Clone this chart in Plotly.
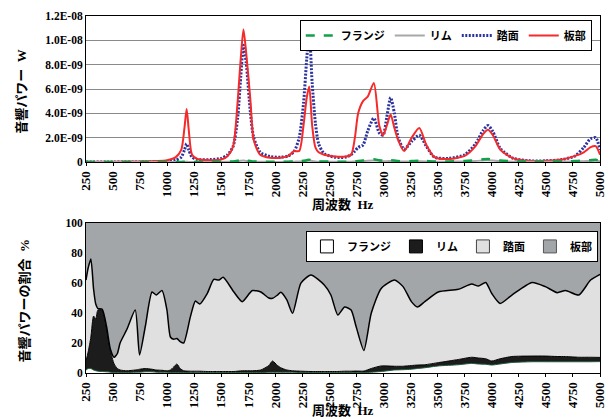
import plotly.graph_objects as go

# ---------- top chart data (sound power, units of 1E-09 W) ----------
freq_top = [250, 500, 750, 900, 1000, 1080, 1130, 1160, 1180, 1200,
            1230, 1280, 1400, 1500, 1560, 1610, 1650, 1680, 1705, 1730,
            1770, 1800, 1860, 1950, 2050, 2120, 2175, 2220, 2260, 2290,
            2313, 2340, 2370, 2400, 2450, 2550, 2650, 2700, 2735, 2765,
            2810, 2855, 2910, 2960, 2995, 3030, 3065, 3100, 3135, 3190,
            3260, 3330, 3395, 3470, 3600, 3750, 3850, 3920, 3965, 4010,
            4080, 4200, 4350, 4500, 4650, 4770, 4850, 4910, 4960, 5000]

flange_w = [0, 0, 0, 0, 0, 0, 0.01, 0.02, 0.03, 0.02,
            0.01, 0.01, 0.01, 0.02, 0.03, 0.05, 0.1, 0.15, 0.18, 0.12,
            0.08, 0.05, 0.03, 0.02, 0.02, 0.03, 0.04, 0.06, 0.1, 0.15,
            0.18, 0.12, 0.08, 0.05, 0.04, 0.03, 0.03, 0.04, 0.06, 0.08,
            0.12, 0.18, 0.22, 0.15, 0.12, 0.12, 0.15, 0.12, 0.08, 0.06,
            0.08, 0.1, 0.08, 0.05, 0.05, 0.08, 0.15, 0.22, 0.25, 0.2,
            0.12, 0.05, 0.03, 0.03, 0.05, 0.08, 0.12, 0.15, 0.18, 0.12]

rim_w = [0, 0, 0, 0, 0, 0, 0.01, 0.01, 0.02, 0.01,
         0.01, 0.01, 0.01, 0.01, 0.02, 0.03, 0.06, 0.1, 0.12, 0.08,
         0.05, 0.03, 0.02, 0.01, 0.01, 0.02, 0.03, 0.04, 0.06, 0.1,
         0.12, 0.08, 0.05, 0.03, 0.02, 0.02, 0.02, 0.03, 0.04, 0.05,
         0.07, 0.1, 0.12, 0.09, 0.07, 0.07, 0.09, 0.07, 0.05, 0.04,
         0.05, 0.06, 0.05, 0.03, 0.03, 0.05, 0.09, 0.13, 0.15, 0.12,
         0.07, 0.03, 0.02, 0.02, 0.03, 0.05, 0.07, 0.09, 0.1, 0.07]

tread_w = [0.0, 0.0, 0.0, 0.02, 0.05, 0.15, 0.4, 1.0, 1.5, 1.0,
           0.4, 0.2, 0.2, 0.3, 0.6, 1.3, 3.5, 7.0, 9.6, 8.2,
           4.0, 2.0, 0.8, 0.45, 0.4, 0.5, 0.9, 2.0, 4.8, 8.5,
           10.7, 6.5, 3.2, 1.5, 0.7, 0.4, 0.4, 0.6, 0.9, 1.2,
           1.4, 2.6, 3.6, 2.4, 2.2, 3.7, 5.3, 4.0, 2.0, 1.05,
           1.7, 2.2, 1.3, 0.4, 0.3, 0.6, 1.5, 2.6, 3.0, 2.5,
           1.1, 0.3, 0.1, 0.1, 0.2, 0.5, 1.2, 1.9, 2.0, 1.0]

plate_w = [0.02, 0.03, 0.05, 0.08, 0.15, 0.4, 1.0, 2.8, 4.35, 2.6,
           0.6, 0.25, 0.15, 0.2, 0.5, 1.3, 4.8, 8.5, 10.9, 9.0,
           5.0, 1.8, 0.6, 0.35, 0.35, 0.5, 0.9, 0.9, 3.0, 5.3,
           6.2, 3.0, 1.2, 0.8, 0.6, 0.45, 0.45, 0.6, 2.0, 4.0,
           5.0, 5.4, 6.5, 3.0, 2.2, 3.0, 3.9, 2.8, 1.8, 0.9,
           2.0, 2.8, 1.4, 0.4, 0.25, 0.5, 1.3, 2.3, 2.65, 2.2,
           1.0, 0.3, 0.1, 0.1, 0.2, 0.5, 0.8, 1.2, 1.3, 0.6]

# ---------- bottom chart data (share of sound power, %) ----------
freq_bot = [250, 270, 295, 320, 340, 360, 400, 440, 475, 510,
            540, 565, 627, 705, 745, 798, 860, 900, 952, 998,
            1030, 1060, 1090, 1120, 1153, 1215, 1261, 1301, 1370, 1431,
            1478, 1518, 1617, 1694, 1787, 1865, 1940, 1973, 2020, 2050,
            2106, 2159, 2236, 2329, 2452, 2513, 2577, 2640, 2700, 2746,
            2818, 2886, 2978, 3102, 3180, 3257, 3313, 3381, 3505, 3690,
            3814, 3876, 3944, 4000, 4077, 4186, 4372, 4495, 4604, 4681,
            4805, 4913, 5000]

flange_pct = [2, 3, 3, 2, 1.5, 1.2, 1, 0.8, 0.5, 0.3,
              0.3, 0.3, 0.3, 0.5, 0.5, 0.8, 0.8, 0.5, 0.5, 0.5,
              0.3, 0.3, 0.3, 0.3, 0.3, 0.3, 0.3, 0.3, 0.3, 0.3,
              0.3, 0.3, 0.3, 0.3, 0.3, 0.3, 0.5, 0.5, 0.5, 0.5,
              0.5, 0.5, 0.3, 0.3, 0.3, 0.3, 0.3, 0.3, 0.3, 0.3,
              0.2, 0.5, 1, 2, 2.2, 2.5, 3, 3.5, 4.7, 5.5,
              6.4, 6, 5.8, 5.3, 6, 7, 7.5, 7.5, 7.5, 7.5,
              7.5, 7.5, 7.6]

rim_pct = [6, 11, 21, 36, 34.5, 40.8, 41, 29.2, 14.5, 5.7,
           2.7, 1.7, 1.2, 1.5, 2, 2.2, 1.7, 1.5, 1.3, 1,
           1.7, 3.7, 5.7, 2.7, 1.2, 0.9, 0.9, 0.9, 0.7, 0.7,
           0.7, 0.7, 0.7, 1.2, 1.2, 1.7, 4.5, 7.5, 4.5, 3,
           1.5, 1, 0.9, 0.7, 0.7, 0.7, 0.7, 0.9, 0.9, 1,
           1.1, 2.5, 3.7, 2.5, 2.3, 2.5, 2.3, 2, 2.2, 3.5,
           4.1, 4, 3.7, 2.7, 3.5, 4, 3.8, 3.8, 3.5, 3.5,
           3, 3, 2.8]

tread_pct = [54, 56, 52, 18, 10, 1, 0.5, 1, 1, 4.5,
             10, 18, 27.5, 40, 9.5, 28, 51.5, 50, 53.2, 40.5,
             22, 18.5, 17, 18, 18.5, 36.4, 46.8, 44.8, 52, 61.4,
             61, 62.8, 53, 46.1, 53.5, 52, 45, 41.8, 47, 50.3,
             46.7, 38.3, 58.8, 64.3, 57.7, 51, 37.7, 42.8, 40.8, 29.7,
             13.7, 36.8, 51.7, 57.5, 53.1, 42.6, 38.7, 42.1, 47.1, 46.8,
             48.8, 48, 50.9, 45, 36.9, 41, 49.1, 46.3, 42.6, 44,
             41.5, 51.5, 55.4]

plate_pct = [38, 30, 24, 44, 54, 57, 57.5, 69, 84, 89.5,
             87, 80, 71, 58, 88, 69, 46, 48, 45, 58,
             76, 77.5, 77, 79, 80, 62.4, 52, 54, 47, 37.6,
             38, 36.2, 46, 52.4, 45, 46, 50, 50.2, 48, 46.2,
             51.3, 60.2, 40, 34.7, 41.3, 48, 61.3, 56, 58, 69,
             85, 60.2, 43.6, 38, 42.4, 52.4, 56, 52.4, 46, 44.2,
             40.7, 42, 39.6, 47, 53.6, 48, 39.6, 42.4, 46.4, 45,
             48, 38, 34.2]

names = ["フランジ", "リム", "踏面", "板部"]
x_ticks = list(range(250, 5001, 250))
y_top_ticks = [0, 2e-9, 4e-9, 6e-9, 8e-9, 1e-8, 1.2e-8]
y_top_text = ["0", "2.0E-09", "4.0E-09", "6.0E-09", "8.0E-09", "1.0E-08", "1.2E-08"]
y_bot_ticks = [0, 20, 40, 60, 80, 100]

SERIF = "Liberation Serif, Noto Sans CJK JP"
JP = "Noto Sans CJK JP"

fig = go.Figure()

def w(vals):
    return [v * 1e-9 for v in vals]

# top chart lines (draw order: tread, plate, rim, flange)
fig.add_trace(go.Scatter(x=freq_top, y=w(tread_w), name=names[2], mode="lines",
                         line=dict(color="#2a33a0", width=3, dash="2px,1.5px", shape="spline", smoothing=0.7),
                         legend="legend", legendrank=3, xaxis="x", yaxis="y"))
fig.add_trace(go.Scatter(x=freq_top, y=w(plate_w), name=names[3], mode="lines",
                         line=dict(color="#f52a2a", width=2, shape="spline", smoothing=0.7),
                         legend="legend", legendrank=4, xaxis="x", yaxis="y"))
fig.add_trace(go.Scatter(x=freq_top, y=w(rim_w), name=names[1], mode="lines",
                         line=dict(color="#a8a8a8", width=2, shape="spline", smoothing=0.7),
                         legend="legend", legendrank=2, xaxis="x", yaxis="y"))
fig.add_trace(go.Scatter(x=freq_top, y=w(flange_w), name=names[0], mode="lines",
                         line=dict(color="#12a04a", width=2.5, dash="dash", shape="spline", smoothing=0.7),
                         legend="legend", legendrank=1, xaxis="x", yaxis="y"))

# bottom chart stacked areas
fills = ["#ffffff", "#1c1c1c", "#e0e0e0", "#a3a6a9"]
lines = ["#1f5a3a", "#000000", "#000000", "rgba(0,0,0,0)"]
widths = [1, 1, 1.5, 0]
series = [flange_pct, rim_pct, tread_pct, plate_pct]
for i in range(4):
    fig.add_trace(go.Scatter(x=freq_bot, y=series[i], name=names[i], mode="lines",
                             stackgroup="share", fillcolor=fills[i], showlegend=False,
                             line=dict(color=lines[i], width=widths[i], shape="spline", smoothing=0.6),
                             xaxis="x2", yaxis="y2"))
# square legend keys for the bottom chart
key_border = ["#000000", "#000000", "#444444", "#555555"]
for i in range(4):
    fig.add_trace(go.Scatter(x=[None], y=[None], name=names[i], mode="markers",
                             marker=dict(symbol="square", size=13, color=fills[i],
                                         line=dict(color=key_border[i], width=1)),
                             legend="legend2", legendrank=i + 1, xaxis="x2", yaxis="y2"))

xtickfont = dict(family=SERIF, size=13, color="black", weight="bold")
ytickfont = dict(family=SERIF, size=11.5, color="black", weight="bold")

axis_common = dict(range=[250, 5000], tickvals=x_ticks, tickangle=-90, tickfont=xtickfont,
                   showline=True, linecolor="black", linewidth=1, mirror=True,
                   ticks="outside", ticklen=3, tickcolor="black", showgrid=False, zeroline=False)

fig.update_layout(
    width=612, height=419,
    margin=dict(l=86, r=12, t=16, b=46, autoexpand=False),
    paper_bgcolor="white", plot_bgcolor="white",
    font=dict(family=SERIF, size=11, color="black", weight="bold"),
    xaxis=dict(domain=[0, 1], anchor="y", **axis_common),
    yaxis=dict(domain=[0.591, 1.0], anchor="x", range=[0, 1.2e-8], tickvals=y_top_ticks,
               ticktext=y_top_text, tickfont=ytickfont, showgrid=True, gridcolor="#8a8a8a",
               gridwidth=1.2, showline=True, linecolor="black", linewidth=1, mirror=True,
               zeroline=False, ticks="", ticklen=0),
    xaxis2=dict(domain=[0, 1], anchor="y2", **axis_common),
    yaxis2=dict(domain=[0.0, 0.42], anchor="x2", range=[0, 100], tickvals=y_bot_ticks,
                tickfont=ytickfont, showgrid=False, showline=True, linecolor="black",
                linewidth=1, mirror=True, zeroline=False, ticks=""),
    legend=dict(x=0.984, y=0.989, xanchor="right", yanchor="top", orientation="h",
                bgcolor="white", bordercolor="black", borderwidth=1,
                font=dict(family=JP, size=11, color="black", weight="bold"),
                itemwidth=30, traceorder="normal", tracegroupgap=0),
    legend2=dict(x=0.996, y=0.398, xanchor="right", yanchor="top", orientation="h",
                 bgcolor="white", bordercolor="black", borderwidth=1,
                 font=dict(family=JP, size=11, color="black", weight="bold"),
                 itemwidth=30, traceorder="normal", tracegroupgap=0),
    showlegend=True,
)

title_font = dict(family=SERIF, size=13, color="black", weight="bold")
fig.add_annotation(text="周波数&nbsp;&nbsp;Hz", x=0.5, y=0.473, xref="paper", yref="paper",
                   showarrow=False, font=title_font, xanchor="center", yanchor="middle")
fig.add_annotation(text="周波数&nbsp;&nbsp;Hz", x=0.5, y=-0.104, xref="paper", yref="paper",
                   showarrow=False, font=title_font, xanchor="center", yanchor="middle")
fig.add_annotation(text="音響パワー&nbsp;&nbsp;W", x=-0.125, y=0.79, xref="paper", yref="paper",
                   showarrow=False, font=title_font, textangle=-90, xanchor="center", yanchor="middle")
fig.add_annotation(text="音響パワーの割合&nbsp;&nbsp;%", x=-0.12, y=0.204, xref="paper", yref="paper",
                   showarrow=False, font=title_font, textangle=-90, xanchor="center", yanchor="middle")

fig.write_html("out.html")
